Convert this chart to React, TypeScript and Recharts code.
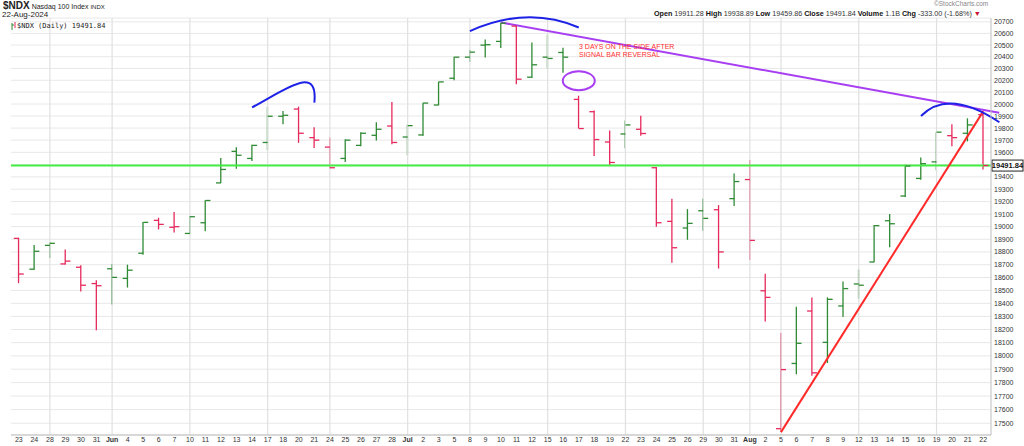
import { ComposedChart, Bar, Line, XAxis, YAxis, CartesianGrid, ReferenceLine, ReferenceDot } from 'recharts';

// daily sessions, 23 May - 22 Aug 2024
const dates = [
  '2024-05-23', '2024-05-24', '2024-05-28', '2024-05-29', '2024-05-30', '2024-05-31',
  '2024-06-03', '2024-06-04', '2024-06-05', '2024-06-06', '2024-06-07', '2024-06-10',
  '2024-06-11', '2024-06-12', '2024-06-13', '2024-06-14', '2024-06-17', '2024-06-18',
  '2024-06-20', '2024-06-21', '2024-06-24', '2024-06-25', '2024-06-26', '2024-06-27',
  '2024-06-28', '2024-07-01', '2024-07-02', '2024-07-03', '2024-07-05', '2024-07-08',
  '2024-07-09', '2024-07-10', '2024-07-11', '2024-07-12', '2024-07-15', '2024-07-16',
  '2024-07-17', '2024-07-18', '2024-07-19', '2024-07-22', '2024-07-23', '2024-07-24',
  '2024-07-25', '2024-07-26', '2024-07-29', '2024-07-30', '2024-07-31', '2024-08-01',
  '2024-08-02', '2024-08-05', '2024-08-06', '2024-08-07', '2024-08-08', '2024-08-09',
  '2024-08-12', '2024-08-13', '2024-08-14', '2024-08-15', '2024-08-16', '2024-08-19',
  '2024-08-20', '2024-08-21', '2024-08-22',
];

const opens = [
  18907, 18665, 18852, 18706, 18680, 18553, 18668, 18593, 18790, 19050, 18995, 18946,
  19031, 19351, 19608, 19550, 19681, 19898, 19958, 19721, 19643, 19550, 19657, 19740,
  19817, 19726, 19743, 19992, 20217, 20396, 20499, 20531, 20663, 20226, 20396, 20436,
  20039, 19936, 19685, 19751, 19790, 19474, 19042, 18989, 19127, 19135, 19224, 19378,
  18497, 17460, 17943, 18341, 18102, 18380, 18550, 18721, 19047, 19245, 19387, 19522,
  19737, 19757, 19911.28,
];

const highs = [
  18912, 18855, 18876, 18820, 18695, 18578, 18706, 18700, 19037, 19071, 19117, 19085,
  19210, 19553, 19641, 19662, 19978, 19942, 19978, 19806, 19721, 19708, 19766, 19848,
  20017, 19826, 20010, 20188, 20400, 20459, 20548, 20694, 20672, 20522, 20588, 20476,
  20070, 19945, 19780, 19862, 19902, 19478, 19224, 19140, 19224, 19172, 19427, 19538,
  18630, 18173, 18373, 18446, 18446, 18569, 18663, 19013, 19100, 19499, 19557, 19766,
  19831, 19881, 19938.89,
];

const lows = [
  18556, 18660, 18753, 18702, 18491, 18195, 18392, 18522, 18777, 18978, 18954, 18943,
  18964, 19351, 19466, 19530, 19619, 19831, 19678, 19635, 19470, 19520, 19649, 19697,
  19667, 19576, 19737, 19990, 20200, 20357, 20393, 20474, 20166, 20220, 20301, 20263,
  19797, 19570, 19490, 19633, 19737, 19000, 18716, 18896, 18967, 18670, 19164, 18737,
  18260, 17435, 17863, 17851, 17946, 18296, 18436, 18721, 18836, 19237, 19376, 19453,
  19649, 19690, 19459.86,
];

const closes = [
  18627, 18805, 18868, 18728, 18540, 18536, 18601, 18657, 19034, 19018, 19000, 19079,
  19209, 19460, 19576, 19657, 19898, 19906, 19757, 19700, 19474, 19700, 19757, 19790,
  19681, 19820, 20008, 20186, 20396, 20439, 20503, 20688, 20209, 20331, 20385, 20396,
  19796, 19705, 19517, 19826, 19755, 19031, 18833, 19026, 19066, 18800, 19362, 18891,
  18446, 17897, 18095, 17873, 18431, 18514, 18540, 19008, 19023, 19488, 19507, 19766,
  19721, 19826, 19491.84,
];

const priceTicks = [
  17500, 17600, 17700, 17800, 17900, 18000, 18100, 18200, 18300, 18400, 18500, 18600,
  18700, 18800, 18900, 19000, 19100, 19200, 19300, 19400, 19500, 19600, 19700, 19800,
  19900, 20000, 20100, 20200, 20300, 20400, 20500, 20600, 20700,
];
const priceRange = [17414, 20733];

const weekStarts = [
  '2024-05-28', '2024-06-03', '2024-06-10', '2024-06-17', '2024-06-24', '2024-07-01',
  '2024-07-08', '2024-07-15', '2024-07-22', '2024-07-29', '2024-08-01', '2024-08-05',
  '2024-08-12', '2024-08-19',
];
const monthLabels: Record<string, string> = { '2024-06-03': 'Jun', '2024-07-01': 'Jul', '2024-08-01': 'Aug' };

const lastClose = 19491.84;

const UP = '#2f8a34';
const DOWN = '#e6295c';
const BLUE = '#1e22e6';
const PURPLE = '#a83ef2';
const FONT = '"Liberation Sans", Arial, sans-serif';

const data = dates.map((d, i) => ({
  date: d,
  open: opens[i],
  close: closes[i],
  range: [lows[i], highs[i]],
  color: i === 0 || closes[i] < closes[i - 1] ? DOWN : UP,
}));

function RangeShape(props: any) {
  const { x, y, width, height, payload } = props;
  const cx = x + width / 2;
  const top = Math.min(y, y + height);
  return <line x1={cx} x2={cx} y1={top} y2={top + Math.abs(height)} stroke={payload.color} strokeWidth={1.3} />;
}

function OpenTick(props: any) {
  const { cx, cy, payload } = props;
  if (cx == null || cy == null) return null;
  return <line key={`o-${payload.date}`} x1={cx - 5} x2={cx} y1={cy} y2={cy} stroke={payload.color} strokeWidth={1.3} />;
}

function CloseTick(props: any) {
  const { cx, cy, payload } = props;
  if (cx == null || cy == null) return null;
  return <line key={`c-${payload.date}`} x1={cx} x2={cx + 5} y1={cy} y2={cy} stroke={payload.color} strokeWidth={1.3} />;
}

function DateTick(props: any) {
  const { x, y, payload } = props;
  const month = monthLabels[payload.value];
  return (
    <text x={x} y={y} dy="0.71em" textAnchor="middle" fontSize={7} fontFamily={FONT} fontWeight={month ? 700 : 400} fill="#333">
      {month ?? String(Number(payload.value.slice(8)))}
    </text>
  );
}

// the last-value box sits over the tick next to it, so that label is left out
function PriceTick(props: any) {
  const { x, y, payload } = props;
  if (Math.abs(payload.value - lastClose) < 60) return null;
  return (
    <text x={x} y={y} dy="0.355em" textAnchor="start" fontSize={7} fontFamily={FONT} fill="#333">
      {payload.value}
    </text>
  );
}

function LastValueLabel(props: any) {
  const { viewBox } = props;
  if (!viewBox) return null;
  const x = viewBox.x + viewBox.width + 1;
  const y = viewBox.y;
  return (
    <g>
      <rect x={x} y={y - 5.5} width={31} height={11} fill="#fff" stroke="#222" strokeWidth={1} />
      <text x={x + 15.5} y={y} dy="0.36em" textAnchor="middle" fontSize={7.5} fontWeight={700} fontFamily={FONT} fill="#111">
        {lastClose.toFixed(2)}
      </text>
    </g>
  );
}

// trendline carried a little past the last bar
const extendedLine = (color: string) => (p: any) => {
  const { x1, y1, x2, y2 } = p;
  const k = 1 + 16 / (x2 - x1);
  return <line x1={x1} y1={y1} x2={x1 + (x2 - x1) * k} y2={y1 + (y2 - y1) * k} stroke={color} strokeWidth={2} />;
};

const arcJune = (p: any) => {
  const { x1, y1, x2, y2 } = p;
  const dx = x2 - x1;
  return <path d={`M${x1},${y1} C${x1 + 0.54 * dx},${y1 - 18} ${x2 + 4},${y2 - 39} ${x2},${y2}`} stroke={BLUE} strokeWidth={2} fill="none" />;
};

const arcJuly = (p: any) => {
  const { x1, y1, x2, y2 } = p;
  const dx = x2 - x1;
  return <path d={`M${x1},${y1} Q${x1 + 0.53 * dx},${(y1 + y2) / 2 - 24} ${x2},${y2}`} stroke={BLUE} strokeWidth={2} fill="none" />;
};

const arcAugust = (p: any) => {
  const { x1, y1, x2, y2 } = p;
  const ex = x2 + 0.26 * (x2 - x1);
  const dx = ex - x1;
  return <path d={`M${x1},${y1} Q${x1 + 0.35 * dx},${(y1 + y2) / 2 - 31} ${ex},${y2}`} stroke={BLUE} strokeWidth={2} fill="none" />;
};

const ellipseShape = (p: any) => (
  <ellipse cx={p.cx} cy={p.cy} rx={16} ry={9.5} fill="none" stroke={PURPLE} strokeWidth={2} />
);

const abs = (left: number, top: number, extra: any = {}) => ({
  position: 'absolute' as const, left, top, whiteSpace: 'nowrap' as const, lineHeight: 1, fontFamily: FONT, ...extra,
});

export default function App() {
  return (
    <div style={{ position: 'absolute', left: 0, top: 0, width: 1024, height: 446, background: '#fff', overflow: 'hidden' }}>
      <ComposedChart width={1024} height={446} data={data} margin={{ top: 18, right: 0, bottom: 0, left: 11 }}>
        <CartesianGrid vertical={false} stroke="#e8e8e8" />
        <XAxis dataKey="date" interval={0} tickLine={false} tickSize={0} tickMargin={2} height={11} axisLine={{ stroke: '#bdbdbd' }} tick={<DateTick />} />
        <XAxis xAxisId="frame" orientation="top" height={0} tick={false} tickLine={false} axisLine={{ stroke: '#c8c8c8' }} />
        <YAxis
          orientation="right"
          type="number"
          scale="log"
          domain={priceRange}
          allowDataOverflow
          ticks={priceTicks}
          interval={0}
          tickLine={false}
          tickSize={0}
          tickMargin={3}
          width={33}
          axisLine={{ stroke: '#bdbdbd' }}
          tick={<PriceTick />}
        />
        <YAxis yAxisId="frame" orientation="left" type="number" domain={[0, 1]} width={0} tick={false} tickLine={false} axisLine={{ stroke: '#c8c8c8' }} />
        {weekStarts.map((d) => (
          <ReferenceLine key={d} x={d} stroke="#e0e0e0" strokeWidth={1.2} />
        ))}
        <ReferenceLine y={lastClose} stroke="#45ee45" strokeWidth={2} label={{ content: LastValueLabel }} />
        <Bar dataKey="range" shape={RangeShape} isAnimationActive={false} />
        <Line dataKey="open" stroke="none" dot={OpenTick} activeDot={false} isAnimationActive={false} />
        <Line dataKey="close" stroke="none" dot={CloseTick} activeDot={false} isAnimationActive={false} />
        <ReferenceLine segment={[{ x: '2024-07-10', y: 20694 }, { x: '2024-08-22', y: 19951 }]} ifOverflow="visible" shape={extendedLine(PURPLE)} />
        <ReferenceLine segment={[{ x: '2024-08-05', y: 17435 }, { x: '2024-08-22', y: 19938.89 }]} ifOverflow="visible" stroke="#ff2a2a" strokeWidth={2} />
        <ReferenceLine segment={[{ x: '2024-06-14', y: 19972 }, { x: '2024-06-21', y: 20011 }]} ifOverflow="visible" shape={arcJune} />
        <ReferenceLine segment={[{ x: '2024-07-08', y: 20620 }, { x: '2024-07-17', y: 20651 }]} ifOverflow="visible" shape={arcJuly} />
        <ReferenceLine segment={[{ x: '2024-08-16', y: 19900 }, { x: '2024-08-22', y: 19848 }]} ifOverflow="visible" shape={arcAugust} />
        <ReferenceDot x="2024-07-17" y={20196} ifOverflow="visible" shape={ellipseShape} />
      </ComposedChart>

      <div style={abs(3, 1, { fontSize: 7, color: '#222' })}>
        <b style={{ fontSize: 10 }}>$NDX</b> Nasdaq 100 Index <span style={{ fontSize: 6 }}>INDX</span>
      </div>
      <div style={abs(2, 11, { fontSize: 8, color: '#222' })}>22-Aug-2024</div>
      <div style={abs(11, 22, { fontSize: 7, color: '#222', fontFamily: '"DejaVu Sans Mono", monospace', display: 'flex', alignItems: 'center' })}>
        <svg width={5} height={8} style={{ marginRight: 1 }}>
          <line x1={1} x2={1} y1={1} y2={8} stroke={UP} />
          <line x1={1} x2={3} y1={3} y2={3} stroke={UP} />
          <line x1={4} x2={4} y1={0} y2={6} stroke={DOWN} />
        </svg>
        $NDX (Daily) 19491.84
      </div>
      <div style={abs(934, 1, { fontSize: 6.5, color: '#888' })}>©StockCharts.com</div>
      <div style={abs(654, 10, { fontSize: 7.2, color: '#333' })}>
        <b style={{ color: '#111' }}>Open</b> 19911.28 <b style={{ color: '#111' }}>High</b> 19938.89{' '}
        <b style={{ color: '#111' }}>Low</b> 19459.86 <b style={{ color: '#111' }}>Close</b> 19491.84{' '}
        <b style={{ color: '#111' }}>Volume</b> 1.1B <b style={{ color: '#111' }}>Chg</b> -333.00 (-1.68%){' '}
        <span style={{ color: '#c8102e' }}>▼</span>
      </div>
      <div style={abs(579, 43, { fontSize: 7, color: '#ff3030', lineHeight: '8px' })}>
        3 DAYS ON THE SIDE AFTER
        <br />
        SIGNAL BAR REVERSAL
      </div>
    </div>
  );
}
